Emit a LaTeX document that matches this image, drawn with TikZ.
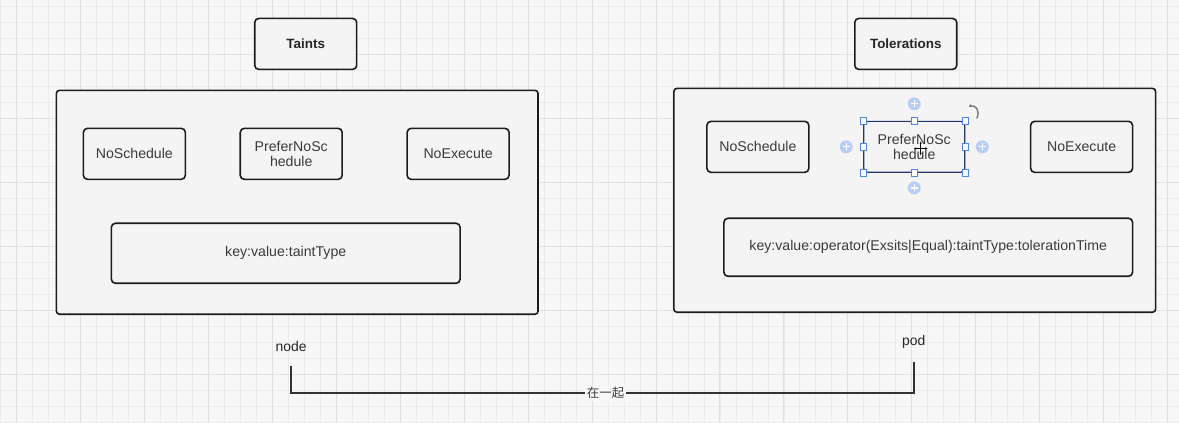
\documentclass[tikz,border=0pt]{standalone}
\usepackage{fontspec}
\setmainfont{Liberation Sans}
\newfontfamily\cjkfont{Noto Sans CJK SC}
\usetikzlibrary{arrows.meta}

\definecolor{bgcol}{HTML}{F7F7F7}
\definecolor{gridminor}{HTML}{EBEBEB}
\definecolor{gridmajor}{HTML}{E0E0E0}
\definecolor{boxfill}{HTML}{F4F4F4}
\definecolor{edge}{HTML}{1C1C1C}
\definecolor{txt}{HTML}{3A3A3A}
\definecolor{selblue}{HTML}{4F86E6}
\definecolor{plusblue}{HTML}{BACEF3}
\definecolor{selnavy}{HTML}{22386A}
\definecolor{wire}{HTML}{333333}

\begin{document}
\begin{tikzpicture}[x=1bp,y=-1bp,
  panel/.style={draw=edge, line width=1.6bp, fill=boxfill, rounded corners=3bp,
    inner sep=0pt},
  tag/.style={draw=edge, line width=1.6bp, fill=boxfill, rounded corners=4bp,
    text=txt, font=\fontsize{14.2}{15.8}\selectfont, align=center, inner sep=0pt,
    minimum width=102bp, minimum height=51bp},
  title/.style={tag, font=\bfseries\fontsize{13.5}{16}\selectfont, text=black!85},
  caption/.style={text=black!85, font=\fontsize{14}{16}\selectfont, inner sep=0pt},
  handle/.style={draw=selblue, fill=white, line width=0.8bp, minimum size=6.5bp,
    inner sep=0pt},
  adder/.style={circle, fill=plusblue, minimum size=13bp, inner sep=0pt},
]

% canvas with grid
\fill[bgcol] (0,0) rectangle (1179,422);
\foreach \gx in {0,16,...,1179} {\draw[gridminor, line width=0.7bp] (\gx,0) -- (\gx,422);}
\foreach \gy in {6,22,...,422} {\draw[gridminor, line width=0.7bp] (0,\gy) -- (1179,\gy);}
\foreach \gx in {16,80,...,1179} {\draw[gridmajor, line width=0.9bp] (\gx,0) -- (\gx,422);}
\foreach \gy in {54,118,...,422} {\draw[gridmajor, line width=0.9bp] (0,\gy) -- (1179,\gy);}

% headers
\node[title] (taints) at (305.5,43.5) {Taints};
\node[title] (tolerations) at (906,43.5) {Tolerations};

% taints panel
\node[panel, minimum width=482bp, minimum height=224bp] (lpanel) at (297,202) {};
\node[tag] (lnosch) at (134,153.5) {NoSchedule};
\node[tag] (lpref) at (291,153.5) {PreferNoSc\\hedule};
\node[tag] (lnoexe) at (458,153.5) {NoExecute};
\node[tag, minimum width=349bp, minimum height=60bp] (lkey) at (285.5,253) {key:value:taintType};

% tolerations panel
\node[panel, minimum width=482bp, minimum height=224bp] (rpanel) at (915,200) {};
\node[tag] (rnosch) at (758,146.5) {NoSchedule};
\node[tag, draw=selnavy, line width=1.2bp, minimum width=101bp] (rpref) at (914.5,146.5) {PreferNoSc\\hedule};
\node[tag] (rnoexe) at (1082,146.5) {NoExecute};
\node[tag, minimum width=409bp, minimum height=58bp] (rkey) at (928.5,247)
  {key:value:operator(Exsits|Equal):taintType:tolerationTime};

% selection handles on the active shape
\foreach \a in {north west,north,north east,east,south east,south,south west,west}
  {\node[handle] at (rpref.\a) {};}
\node[adder] (addup) at ([yshift=17bp]rpref.north) {};
\node[adder] (adddown) at ([yshift=-15bp]rpref.south) {};
\node[adder] (addleft) at ([xshift=-17bp]rpref.west) {};
\node[adder] (addright) at ([xshift=17bp]rpref.east) {};
\foreach \nm in {up,down,left,right} {
  \draw[white, line width=1.3bp] ([xshift=-3.5bp]add\nm.center) -- ([xshift=3.5bp]add\nm.center);
  \draw[white, line width=1.3bp] ([yshift=-3.5bp]add\nm.center) -- ([yshift=3.5bp]add\nm.center);
}
% rotate hint
\coordinate (rotA) at (969,106);
\coordinate (rotB) at (977,118);
\draw[black!55, line width=1.3bp, {Stealth[length=3bp,width=3.5bp]}-] (rotA) .. controls (976,104) and (981,111) .. (rotB);
% move cursor
\coordinate (mv) at (921,148);
\draw[black, line width=1bp, {Stealth[length=2.6bp]}-{Stealth[length=2.6bp]}] ([xshift=-7bp]mv) -- ([xshift=7bp]mv);
\draw[black, line width=1bp, {Stealth[length=2.6bp]}-{Stealth[length=2.6bp]}] ([yshift=-7bp]mv) -- ([yshift=7bp]mv);

% bottom link between node and pod
\node[caption] (nodelbl) at (291,346) {node};
\node[caption] (podlbl) at (914,342) {pod};
\coordinate (lend) at (291,366);
\coordinate (rend) at (914,362);
\coordinate (rail) at (600,393);
\draw[wire, line width=1.6bp] (lend) -- (lend |- rail) -- node[fill=bgcol, inner sep=2bp, text=txt,
   font=\cjkfont\fontsize{12.5}{14}\selectfont, pos=0.505] (joinlbl) {在一起} (rend |- rail) -- (rend);

\end{tikzpicture}
\end{document}
